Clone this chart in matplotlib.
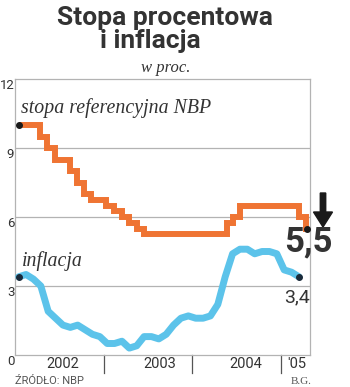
import matplotlib
matplotlib.use("Agg")
import matplotlib.pyplot as plt
import numpy as np

# ---- data ----
# months since Jan 1 2002
rate_change_month = [0.5, 3.4, 4.4, 5.4, 7.4, 8.4, 9.4, 10.3, 12.4, 13.4, 14.5, 15.5,
                     16.5, 17.5, 28.8, 29.5, 30.5, 38.5, 39.5]
rate_value = [10.0, 9.5, 9.0, 8.5, 8.0, 7.5, 7.0, 6.75, 6.5, 6.25, 6.0, 5.75,
              5.5, 5.25, 5.75, 6.0, 6.5, 6.0, 5.5]
rate_end_month = 39.6

inflation = [3.4, 3.5, 3.3, 3.0, 1.9, 1.6, 1.3, 1.2, 1.3, 1.1, 0.9, 0.8,
             0.5, 0.5, 0.6, 0.3, 0.4, 0.8, 0.8, 0.7, 0.9, 1.3, 1.6, 1.7,
             1.6, 1.6, 1.7, 2.2, 3.4, 4.4, 4.6, 4.6, 4.4, 4.5, 4.5, 4.4,
             3.7, 3.6, 3.4]
infl_month = [i + 0.5 for i in range(len(inflation))]

y_ticks = [0, 3, 6, 9, 12]
year_labels = ["2002", "2003", "2004", "'05"]
year_label_pos = [6.5, 19.6, 31.3, 38.2]
year_bounds = [12, 24, 36]

ORANGE = "#ef7433"
BLUE = "#5cc3ea"
DARK = "#333333"
GRID = "#b3b3b3"

fig = plt.figure(figsize=(3.5, 3.87), dpi=100)
ax = fig.add_axes([15/350, 1-355/387, 295/350, 276/387])
ax.set_xlim(0, 40)
ax.set_ylim(0, 12)

for s in ax.spines.values():
    s.set_color(GRID)
    s.set_linewidth(0.9)
ax.set_xticks([])
ax.set_yticks([])
for v in y_ticks[1:-1]:
    ax.axhline(v, color=GRID, lw=0.9, zorder=1)
for v in y_ticks:
    ax.text(-0.1, v, str(v), ha="right", va="top", fontsize=9.5,
            family="Roboto", color=DARK, clip_on=False)

# year separators below axis
trans = ax.get_xaxis_transform()
for b in year_bounds:
    ax.plot([b, b], [0, -18/276], transform=trans, color="#555555", lw=0.9,
            clip_on=False)
for lab, p in zip(year_labels, year_label_pos):
    ax.text(p, -9/276, lab, transform=trans, ha="center", va="center",
            fontsize=10.5, family="Roboto", color=DARK)

# rate step line
rx = list(rate_change_month) + [rate_end_month]
ry = list(rate_value) + [rate_value[-1]]
ax.plot(rx, ry, drawstyle="steps-post", color=ORANGE, lw=4.3,
        solid_joinstyle="miter", solid_capstyle="butt", zorder=3)
ax.plot([rx[0], rx[-1]], [ry[0], ry[-1]], "o", color="#1a1a1a", ms=4, zorder=5)

# inflation line
ax.plot(infl_month, inflation, color=BLUE, lw=5, solid_joinstyle="round",
        solid_capstyle="round", zorder=3)
ax.plot([infl_month[0], infl_month[-1]], [inflation[0], inflation[-1]], "o",
        color="#1a2a3a", ms=4, zorder=5)

# series labels
ax.text(0.8, 10.52, "stopa referencyjna NBP", family="Liberation Serif",
        style="italic", fontsize=14.3, color=DARK, va="baseline")
ax.text(0.95, 3.85, "inflacja", family="Liberation Serif",
        style="italic", fontsize=14.3, color=DARK, va="baseline")

# end value labels
fig.text(308.5/350, 1-242/387, "5,5", ha="center", va="center", fontsize=25,
         family="Roboto", weight="bold", color=DARK)
fig.text(297/350, 1-297/387, "3,4", ha="center", va="center", fontsize=14,
         family="Roboto", color=DARK)

# arrow
fig.add_artist(matplotlib.patches.FancyArrow(
    323/350, 1-193/387, 0, -34/387, width=6/387, head_width=19/350,
    head_length=15/387, length_includes_head=True, color="#1a1a1a",
    transform=fig.transFigure))

# titles
fig.text(164.5/350, 1-25/387, "Stopa procentowa", ha="center", va="baseline",
         fontsize=19, family="Roboto", weight="bold", color=DARK)
fig.text(150.5/350, 1-48/387, "i inflacja", ha="center", va="baseline",
         fontsize=19, family="Roboto", weight="bold", color=DARK)
fig.text(166/350, 1-72/387, "w proc.", ha="center", va="baseline",
         fontsize=12, family="Liberation Serif", style="italic", color=DARK)

# footer
fig.text(15/350, 1-381/387, "ŹRÓDŁO: NBP", ha="left", va="center",
         fontsize=8, family="Roboto", color="#555555")
fig.text(312/350, 1-381/387, "B.G.", ha="right", va="center",
         fontsize=8, family="Liberation Serif", color="#555555")

fig.savefig("out.png", dpi=100)
